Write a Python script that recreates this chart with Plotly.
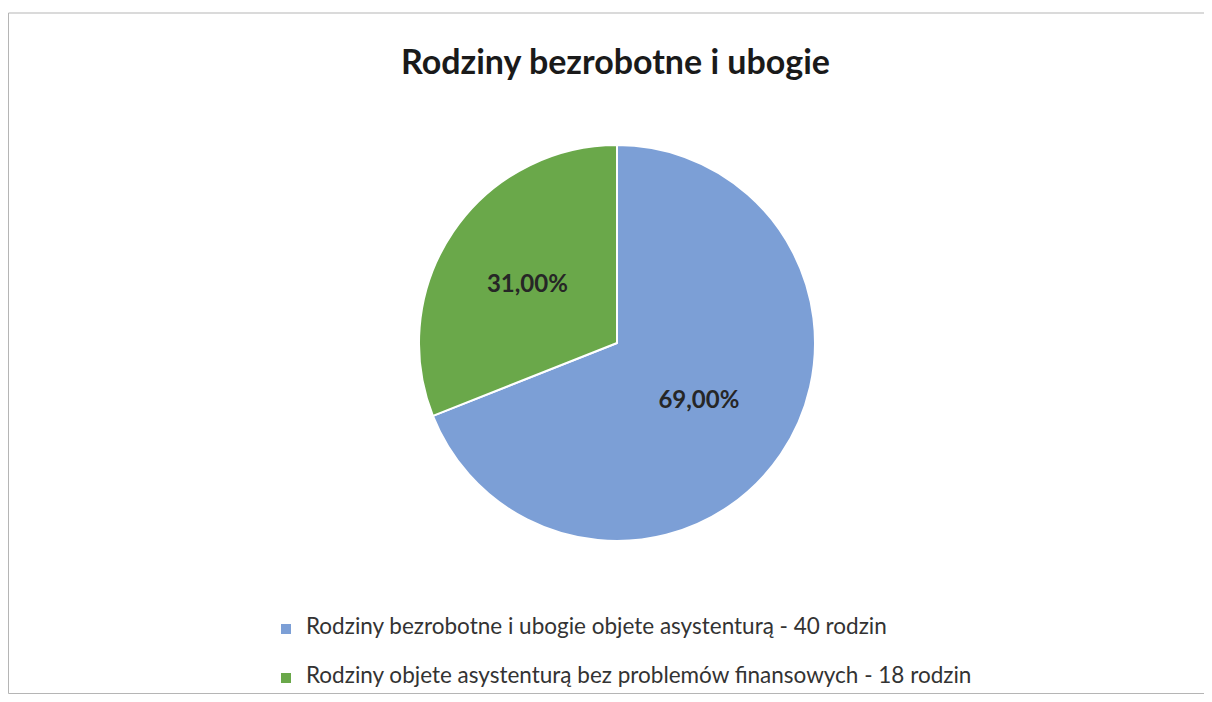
import plotly.graph_objects as go

labels = [
    "Rodziny bezrobotne i ubogie objete asystenturą - 40 rodzin",
    "Rodziny objete asystenturą bez problemów finansowych - 18 rodzin",
]
values = [69.0, 31.0]
value_text = ["69,00%", "31,00%"]
colors = ["#7c9fd6", "#6aa84a"]
title_text = "Rodziny bezrobotne i ubogie"

W, H = 1204, 686  # page body has an 8px margin

# legend entries: text shown larger than the legend's base font so that rows are spaced apart
legend_names = ["<br><span style='font-size:22.5px'>%s</span><br>" % s for s in labels]

fig = go.Figure(
    go.Pie(
        labels=legend_names,
        values=values,
        text=value_text,
        texttemplate="%{text}",
        hovertemplate="%{text}<extra></extra>",
        textposition="inside",
        insidetextorientation="horizontal",
        textfont=dict(family="Lato", size=24, color="#262626", weight="bold"),
        marker=dict(colors=colors, line=dict(color="white", width=2)),
        sort=False,
        direction="clockwise",
        rotation=0,
        domain=dict(x=[(609 - 198) / W, (609 + 198) / W],
                    y=[1 - (335 + 198) / H, 1 - (335 - 198) / H]),
        showlegend=True,
    )
)

border = dict(color="#b5b5b5", width=1)
top_y = 1 - 5 / H
bottom_y = 0.5 / H
left_x = 0.5 / W

fig.update_layout(
    width=W,
    height=H,
    margin=dict(l=0, r=0, t=0, b=0, autoexpand=False),
    paper_bgcolor="white",
    plot_bgcolor="white",
    title=dict(
        text=title_text,
        x=607.5 / W,
        xanchor="center",
        y=1 - 54 / H,
        yanchor="middle",
        font=dict(family="Lato", size=34, color="#1a1a1a", weight="bold"),
    ),
    legend=dict(
        orientation="v",
        x=258 / W,
        xanchor="left",
        y=1 - 646 / H,
        yanchor="middle",
        font=dict(family="Lato", size=11.8, color="#333333"),
        itemwidth=30,
        bgcolor="rgba(0,0,0,0)",
    ),
    shapes=[
        dict(type="line", xref="paper", yref="paper",
             x0=left_x, x1=1, y0=top_y, y1=top_y, line=border),
        dict(type="line", xref="paper", yref="paper",
             x0=left_x, x1=left_x, y0=bottom_y, y1=top_y, line=border),
        dict(type="line", xref="paper", yref="paper",
             x0=left_x, x1=1, y0=bottom_y, y1=bottom_y, line=border),
    ],
)

fig.write_html("out.html")
